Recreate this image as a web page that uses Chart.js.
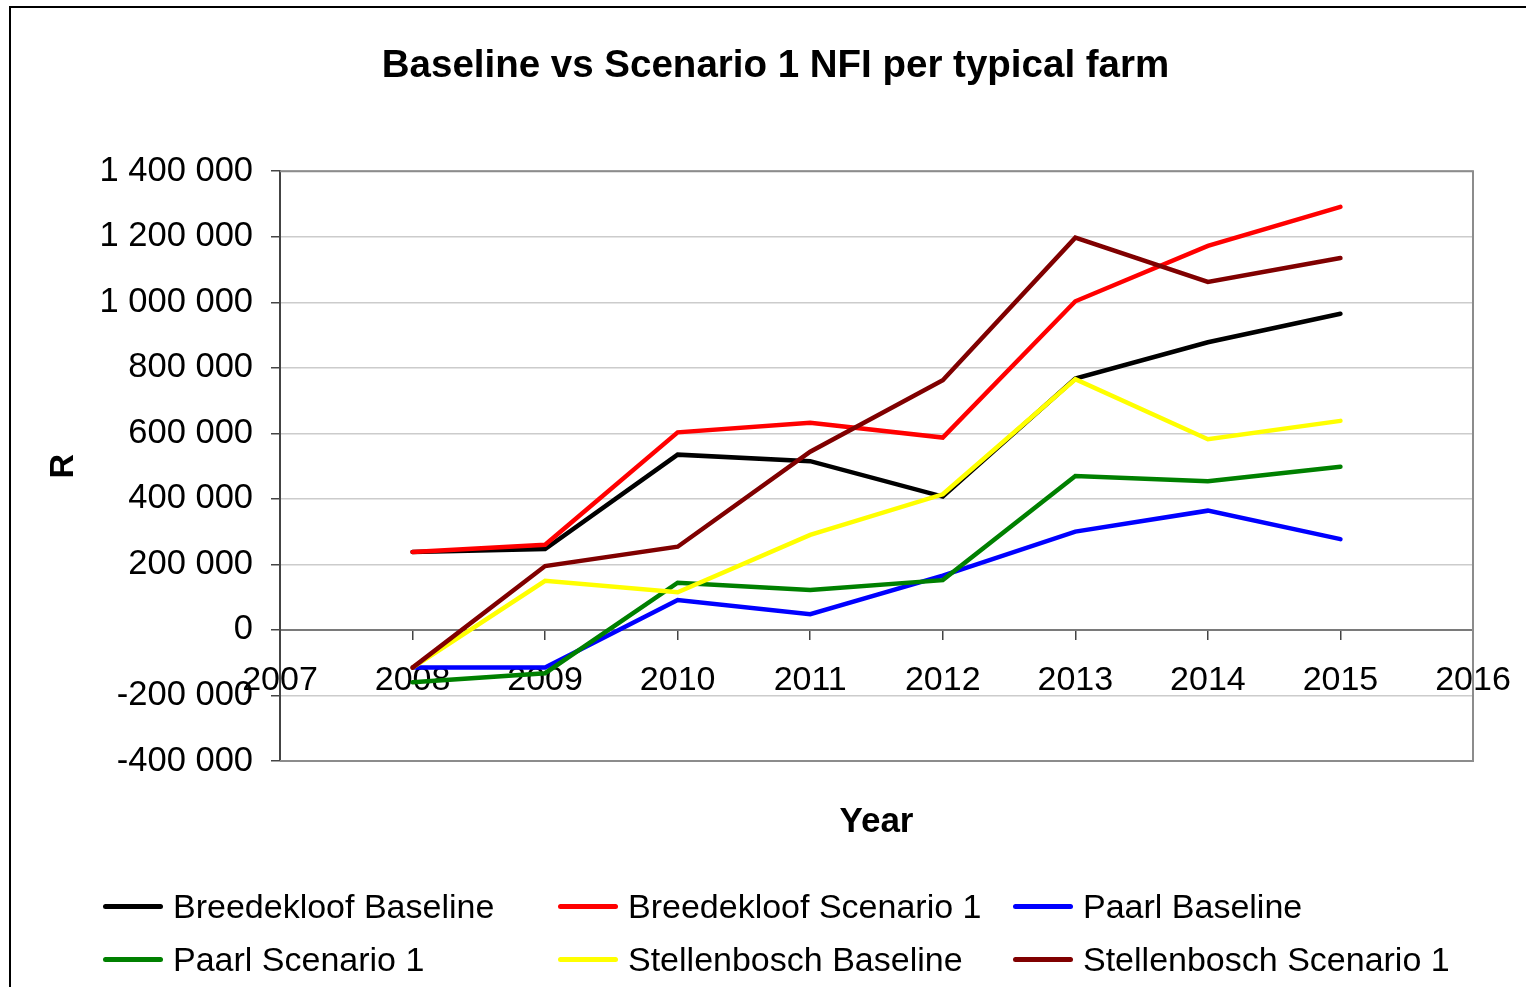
<!DOCTYPE html>
<html>
<head>
<meta charset="utf-8">
<title>Baseline vs Scenario 1 NFI per typical farm</title>
<script src="https://cdn.jsdelivr.net/npm/chart.js@4.4.1/dist/chart.umd.min.js"></script>
<style>
  html, body { margin: 0; padding: 0; background: #fff; overflow: hidden; }
  #wrap { position: relative; width: 1526px; height: 987px; }
  #frame { position: absolute; left: 9px; top: 6px; width: 1560px; height: 1020px;
           border-left: 2px solid #000; border-top: 2px solid #000; pointer-events: none; }
  canvas { position: absolute; left: 0; top: 0; }
  #legend { position: absolute; left: 103px; top: 880px; display: grid;
            grid-template-columns: 455px 455px 455px; grid-auto-rows: 53px;
            font-family: "Liberation Sans", Arial, sans-serif; font-size: 34px; color: #000; }
  .item { display: flex; align-items: center; white-space: nowrap; }
  .swatch { width: 60px; height: 5px; border-radius: 2.5px; margin-right: 10px; }
</style>
</head>
<body>
<div id="wrap">
  <canvas id="chart" width="1526" height="987"></canvas>
  <div id="frame"></div>
  <div id="legend"></div>
</div>
<script>
// Net farm income (R) per typical farm, 2008-2015
const years = [2008, 2009, 2010, 2011, 2012, 2013, 2014, 2015];
const breedekloofBaseline   = [238000, 247000, 535000, 515000, 407000, 767000, 878000, 965000];
const breedekloofScenario1  = [238000, 260000, 603000, 632000, 587000, 1003000, 1172000, 1291000];
const paarlBaseline         = [-115000, -115000, 91000, 48000, 166000, 300000, 364000, 277000];
const paarlScenario1        = [-160000, -132000, 144000, 122000, 152000, 470000, 454000, 498000];
const stellenboschBaseline  = [-115000, 150000, 115000, 290000, 414000, 765000, 582000, 638000];
const stellenboschScenario1 = [-115000, 195000, 254000, 544000, 762000, 1197000, 1062000, 1135000];

const seriesNames = ['Breedekloof Baseline', 'Breedekloof Scenario 1', 'Paarl Baseline',
                     'Paarl Scenario 1', 'Stellenbosch Baseline', 'Stellenbosch Scenario 1'];
const seriesValues = [breedekloofBaseline, breedekloofScenario1, paarlBaseline,
                      paarlScenario1, stellenboschBaseline, stellenboschScenario1];
const seriesColors = ['#000000', '#ff0000', '#0000ff', '#008000', '#ffff00', '#800000'];

const yearMin = 2007, yearMax = 2016;
const valueMin = -400000, valueMax = 1400000, valueStep = 200000;

const spaced = v => String(v).replace(/\B(?=(\d{3})+(?!\d))/g, ' ');

Chart.defaults.font.family = '"Liberation Sans", Arial, sans-serif';
Chart.defaults.color = '#000';

// later series drawn on top of earlier ones
const datasets = seriesNames.map((name, i) => ({
  label: name,
  data: years.map((yr, k) => ({ x: yr, y: seriesValues[i][k] })),
  borderColor: seriesColors[i],
  backgroundColor: seriesColors[i],
  borderWidth: 4.5,
  borderCapStyle: 'round',
  borderJoinStyle: 'miter',
  pointRadius: 0,
  tension: 0,
  fill: false,
  order: seriesNames.length - i
}));

// grey rectangle around the plotting area
const plotFrame = {
  id: 'plotFrame',
  beforeDatasetsDraw(chart) {
    const { ctx, chartArea: a } = chart;
    ctx.save();
    ctx.strokeStyle = '#8c8c8c';
    ctx.lineWidth = 2;
    ctx.beginPath();
    ctx.moveTo(a.left, a.top);
    ctx.lineTo(a.right, a.top);
    ctx.lineTo(a.right, a.bottom);
    ctx.lineTo(a.left, a.bottom);
    ctx.stroke();
    ctx.restore();
  }
};

const chart = new Chart(document.getElementById('chart'), {
  type: 'line',
  data: { datasets },
  plugins: [plotFrame],
  options: {
    responsive: false,
    animation: false,
    layout: { padding: { left: 78, right: 53, top: 0, bottom: 226 } },
    plugins: {
      legend: { display: false },
      tooltip: { enabled: false },
      title: {
        display: true,
        text: 'Baseline vs Scenario 1 NFI per typical farm',
        font: { size: 38.5, weight: 'bold' },
        color: '#000',
        padding: { top: 43, bottom: 82 }
      }
    },
    scales: {
      x: {
        type: 'linear',
        position: { y: 0 },
        min: yearMin,
        max: yearMax,
        afterFit: s => { s.paddingLeft = 0; s.paddingRight = 0; },
        grid: { drawOnChartArea: false, drawTicks: true, tickLength: 9, tickColor: '#444', lineWidth: 1.5 },
        border: { display: true, color: '#7a7a7a', width: 2 },
        ticks: {
          stepSize: 1,
          autoSkip: false,
          maxRotation: 0,
          padding: 21,
          font: { size: 34 },
          callback: v => String(v)
        },
        title: {
          display: true,
          text: 'Year',
          font: { size: 35, weight: 'bold' },
          padding: { top: 80, bottom: 0 }
        }
      },
      y: {
        position: 'left',
        min: valueMin,
        max: valueMax,
        afterFit: s => { s.width = 202; },
        grid: { color: '#cccccc', lineWidth: 1.5, drawTicks: true, tickLength: 9, tickColor: '#444' },
        border: { display: true, color: '#444', width: 2 },
        ticks: {
          stepSize: valueStep,
          padding: 18,
          font: { size: 34.5 },
          callback: v => spaced(v)
        },
        title: {
          display: true,
          text: 'R',
          font: { size: 34, weight: 'bold' },
          padding: { top: -35, bottom: 0 }
        }
      }
    }
  }
});

// legend laid out in three columns, built from the chart's datasets
const legendEl = document.getElementById('legend');
chart.data.datasets.forEach(ds => {
  const item = document.createElement('div');
  item.className = 'item';
  const sw = document.createElement('span');
  sw.className = 'swatch';
  sw.style.background = ds.borderColor;
  const tx = document.createElement('span');
  tx.textContent = ds.label;
  item.appendChild(sw);
  item.appendChild(tx);
  legendEl.appendChild(item);
});
</script>
</body>
</html>
